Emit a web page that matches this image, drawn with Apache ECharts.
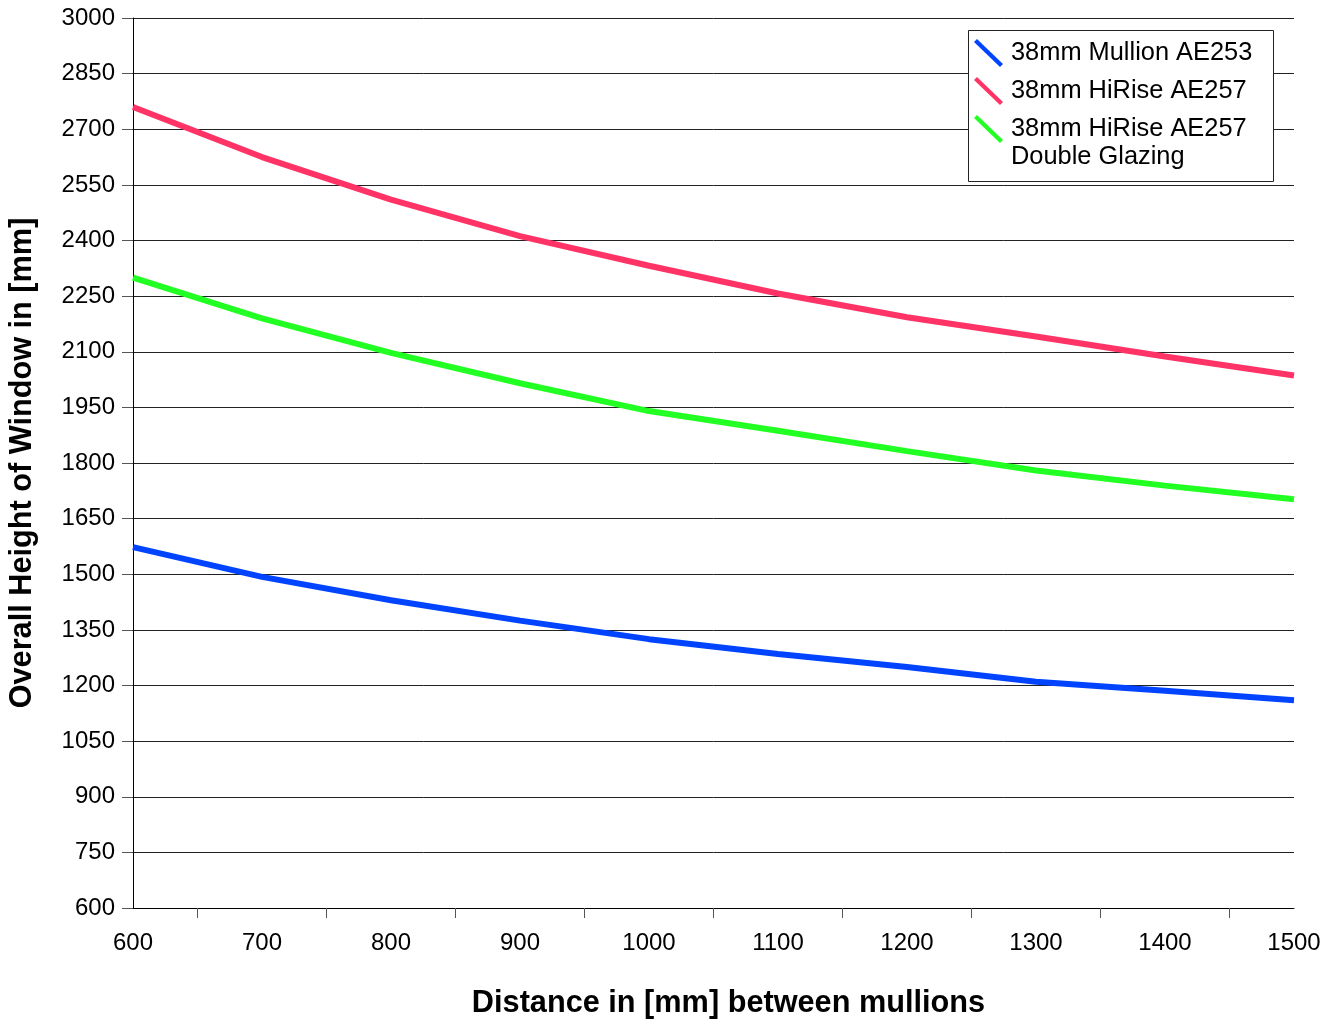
<!DOCTYPE html>
<html>
<head>
<meta charset="utf-8">
<script src="https://cdn.jsdelivr.net/npm/echarts@6/dist/echarts.min.js"></script>
<style>
  html, body { margin: 0; padding: 0; background: #fff; }
  #chart { width: 1339px; height: 1021px; }
</style>
</head>
<body>
<div id="chart"></div>
<script>
// ---- data ----
const distances = [600, 700, 800, 900, 1000, 1100, 1200, 1300, 1400, 1500];
const mullionAE253 = [1573, 1493, 1430, 1375, 1325, 1285, 1250, 1210, 1186, 1160];
const hiRiseAE257 = [2760, 2625, 2510, 2412, 2332, 2257, 2193, 2141, 2087, 2036];
const hiRiseAE257DG = [2300, 2190, 2097, 2015, 1940, 1887, 1832, 1780, 1739, 1702];
const seriesNames = ['38mm Mullion AE253', '38mm HiRise AE257', '38mm HiRise AE257\nDouble Glazing'];
const xLabelValues = [600, 700, 800, 900, 1000, 1100, 1200, 1300, 1400, 1500];
const xTickValues = [650, 750, 850, 950, 1050, 1150, 1250, 1350, 1450];
const xTitle = 'Distance in [mm] between mullions';
const yTitle = 'Overall Height of Window in [mm]';

const FONT = '"Liberation Sans", Arial, sans-serif';
const colors = ['#0044FF', '#FF3366', '#22FF22'];
const iconPath = 'path://M0,3 L3,0 L29,25 L26,28 Z';

function pairs(ys) { return distances.map((x, i) => [x, ys[i]]); }
const plain = (v) => String(v);

const chart = echarts.init(document.getElementById('chart'));
chart.setOption({
  animation: false,
  backgroundColor: '#ffffff',
  textStyle: { fontFamily: FONT },
  grid: { left: 133, right: 45, top: 18, bottom: 113, containLabel: false, outerBoundsMode: 'none' },
  xAxis: {
    type: 'value', min: 600, max: 1500, interval: 100,
    name: xTitle, nameLocation: 'middle', nameGap: 80,
    nameTextStyle: { fontFamily: FONT, fontSize: 30.7, fontWeight: 'bold', color: '#000', padding: [0, 0, 0, 30] },
    axisLine: { show: true, lineStyle: { color: '#000', width: 1 } },
    axisTick: { show: true, customValues: xTickValues, length: 10, lineStyle: { color: '#555' } },
    axisLabel: { customValues: xLabelValues, formatter: plain, fontFamily: FONT, fontSize: 24, color: '#000', margin: 23 },
    splitLine: { show: false }
  },
  yAxis: {
    type: 'value', min: 600, max: 3000, interval: 150,
    name: yTitle, nameLocation: 'middle', nameGap: 95,
    nameTextStyle: { fontFamily: FONT, fontSize: 30.7, fontWeight: 'bold', color: '#000' },
    axisLine: { show: true, lineStyle: { color: '#000', width: 1 } },
    axisTick: { show: true, length: 11, lineStyle: { color: '#555' } },
    axisLabel: { formatter: plain, fontFamily: FONT, fontSize: 24, color: '#000', margin: 18 },
    splitLine: { show: true, lineStyle: { color: '#222', width: 1 } }
  },
  graphic: [{
    type: 'rect', z: 3,
    shape: { x: 968.5, y: 30.5, width: 305, height: 151 },
    style: { fill: '#fff', stroke: '#222', lineWidth: 1 }
  }],
  legend: [{
    z: 6, orient: 'vertical', left: 974, top: 39, padding: 0,
    itemWidth: 29, itemHeight: 28, itemGap: 10,
    icon: iconPath,
    itemStyle: { borderWidth: 0 },
    data: [seriesNames[0], seriesNames[1]],
    textStyle: { fontFamily: FONT, fontSize: 25.4, lineHeight: 22, color: '#000', padding: [6, 0, 0, 3] }
  }, {
    z: 6, orient: 'vertical', left: 974, top: 84, padding: 0,
    itemWidth: 29, itemHeight: 28,
    icon: iconPath,
    itemStyle: { borderWidth: 0 },
    data: [seriesNames[2]],
    formatter: (name) => '\n' + name,
    textStyle: { fontFamily: FONT, fontSize: 25.4, color: '#000', lineHeight: 28, padding: [6, 0, 0, 3] }
  }],
  series: [
    { name: seriesNames[0], type: 'line', data: pairs(mullionAE253), symbol: 'none', color: colors[0], lineStyle: { width: 6, color: colors[0] }, z: 2 },
    { name: seriesNames[1], type: 'line', data: pairs(hiRiseAE257), symbol: 'none', color: colors[1], lineStyle: { width: 6, color: colors[1] }, z: 2 },
    { name: seriesNames[2], type: 'line', data: pairs(hiRiseAE257DG), symbol: 'none', color: colors[2], lineStyle: { width: 6, color: colors[2] }, z: 2 }
  ]
});
</script>
</body>
</html>
